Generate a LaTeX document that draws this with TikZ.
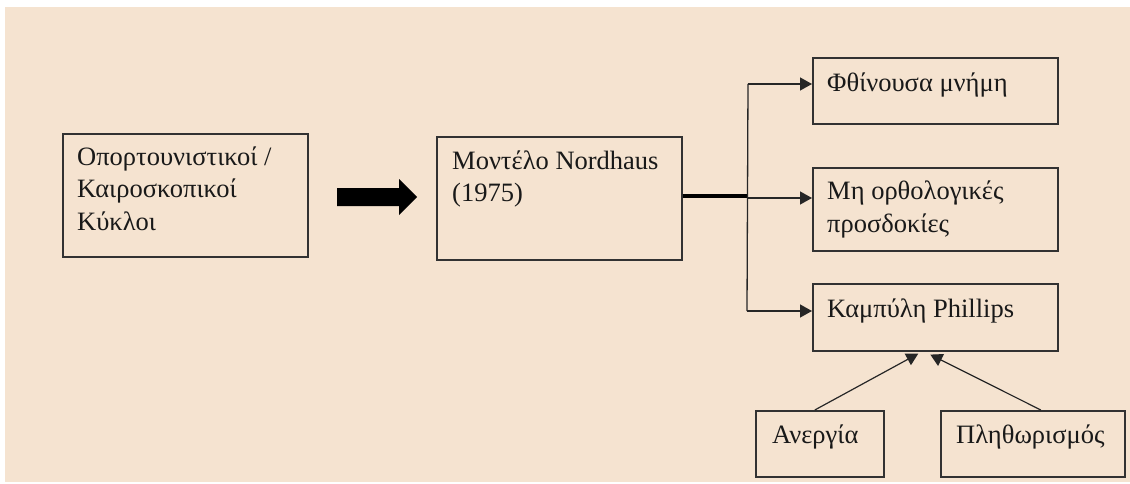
\documentclass[tikz,border=0pt]{standalone}
\usepackage{fontspec}
\setmainfont{Liberation Serif}
\usetikzlibrary{arrows.meta,calc}
\definecolor{bg}{RGB}{245,227,208}
\definecolor{edge}{RGB}{50,50,50}
\begin{document}
\begin{tikzpicture}[x=1pt,y=-1pt,
  box/.style={draw=edge,line width=1.6pt,anchor=north west,inner sep=0pt},
  txt/.style={anchor=base west,inner sep=0pt,align=left,text=black!90,font=\fontsize{26.5}{32.5}\selectfont},
  link/.style={draw=black!85,line width=1.3pt,-{Triangle[length=12pt,width=13pt]}},
  plain/.style={draw=black!85,line width=1.3pt},
]
\useasboundingbox (0,0) rectangle (1130,484);
\fill[bg] (5,7) rectangle (1130,482);
% boxes
\node[box,minimum width=245pt,minimum height=123pt] (b1) at (62,133) {};
\node[box,minimum width=245pt,minimum height=123pt] (b2) at (436,136) {};
\node[box,minimum width=245pt,minimum height=66pt] (b3) at (812,57) {};
\node[box,minimum width=245pt,minimum height=83pt] (b4) at (812,167) {};
\node[box,minimum width=245pt,minimum height=67pt] (b5) at (812,283) {};
\node[box,minimum width=128pt,minimum height=66pt] (b6) at (755,410) {};
\node[box,minimum width=184pt,minimum height=66pt] (b7) at (940,410) {};
% texts (anchor = baseline of the last line)
\node[txt] (t1) at ($(b1.north west)+(15,97)$) {Οπορτουνιστικοί /\\Καιροσκοπικοί\\Κύκλοι};
\node[txt] (t2) at ($(b2.north west)+(16,65.5)$) {Μοντέλο Nordhaus\\(1975)};
\node[txt] (t3) at ($(b3.north west)+(15,35)$) {Φθίνουσα μνήμη};
\node[txt] (t4) at ($(b4.north west)+(15,65)$) {Μη ορθολογικές\\προσδοκίες};
\node[txt] (t5) at ($(b5.north west)+(15,34)$) {Καμπύλη Phillips};
\node[txt] (t6) at ($(b6.north west)+(17,33)$) {Ανεργία};
\node[txt] (t7) at ($(b7.north west)+(16,33)$) {Πληθωρισμός};
% block arrow
\fill[black] (337,188) -- (399,188) -- (399,179) -- (417,197) -- (399,215) -- (399,206) -- (337,206) -- cycle;
% branching connectors
\coordinate (j) at (748,196);
\coordinate (jt) at (748,84);
\coordinate (jb) at (747,311);
\draw[draw=black,line width=3.4pt] (b2.east |- j) -- (j);
\draw[plain] (jt) -- (jb);
\draw[link] (jt) -- (jt -| b3.west);
\draw[link] (747,198) -- (b4.west |- 0,198);
\draw[link] (jb) -- (jb -| b5.west);
% bottom arrows
\draw[link,line width=1.2pt] ([xshift=-5pt]b6.north) -- ([xshift=-17pt,yshift=-2pt]b5.south);
\draw[link,line width=1.2pt] ([xshift=8pt]b7.north) -- ([xshift=-5pt,yshift=-3pt]b5.south);
\end{tikzpicture}
\end{document}
